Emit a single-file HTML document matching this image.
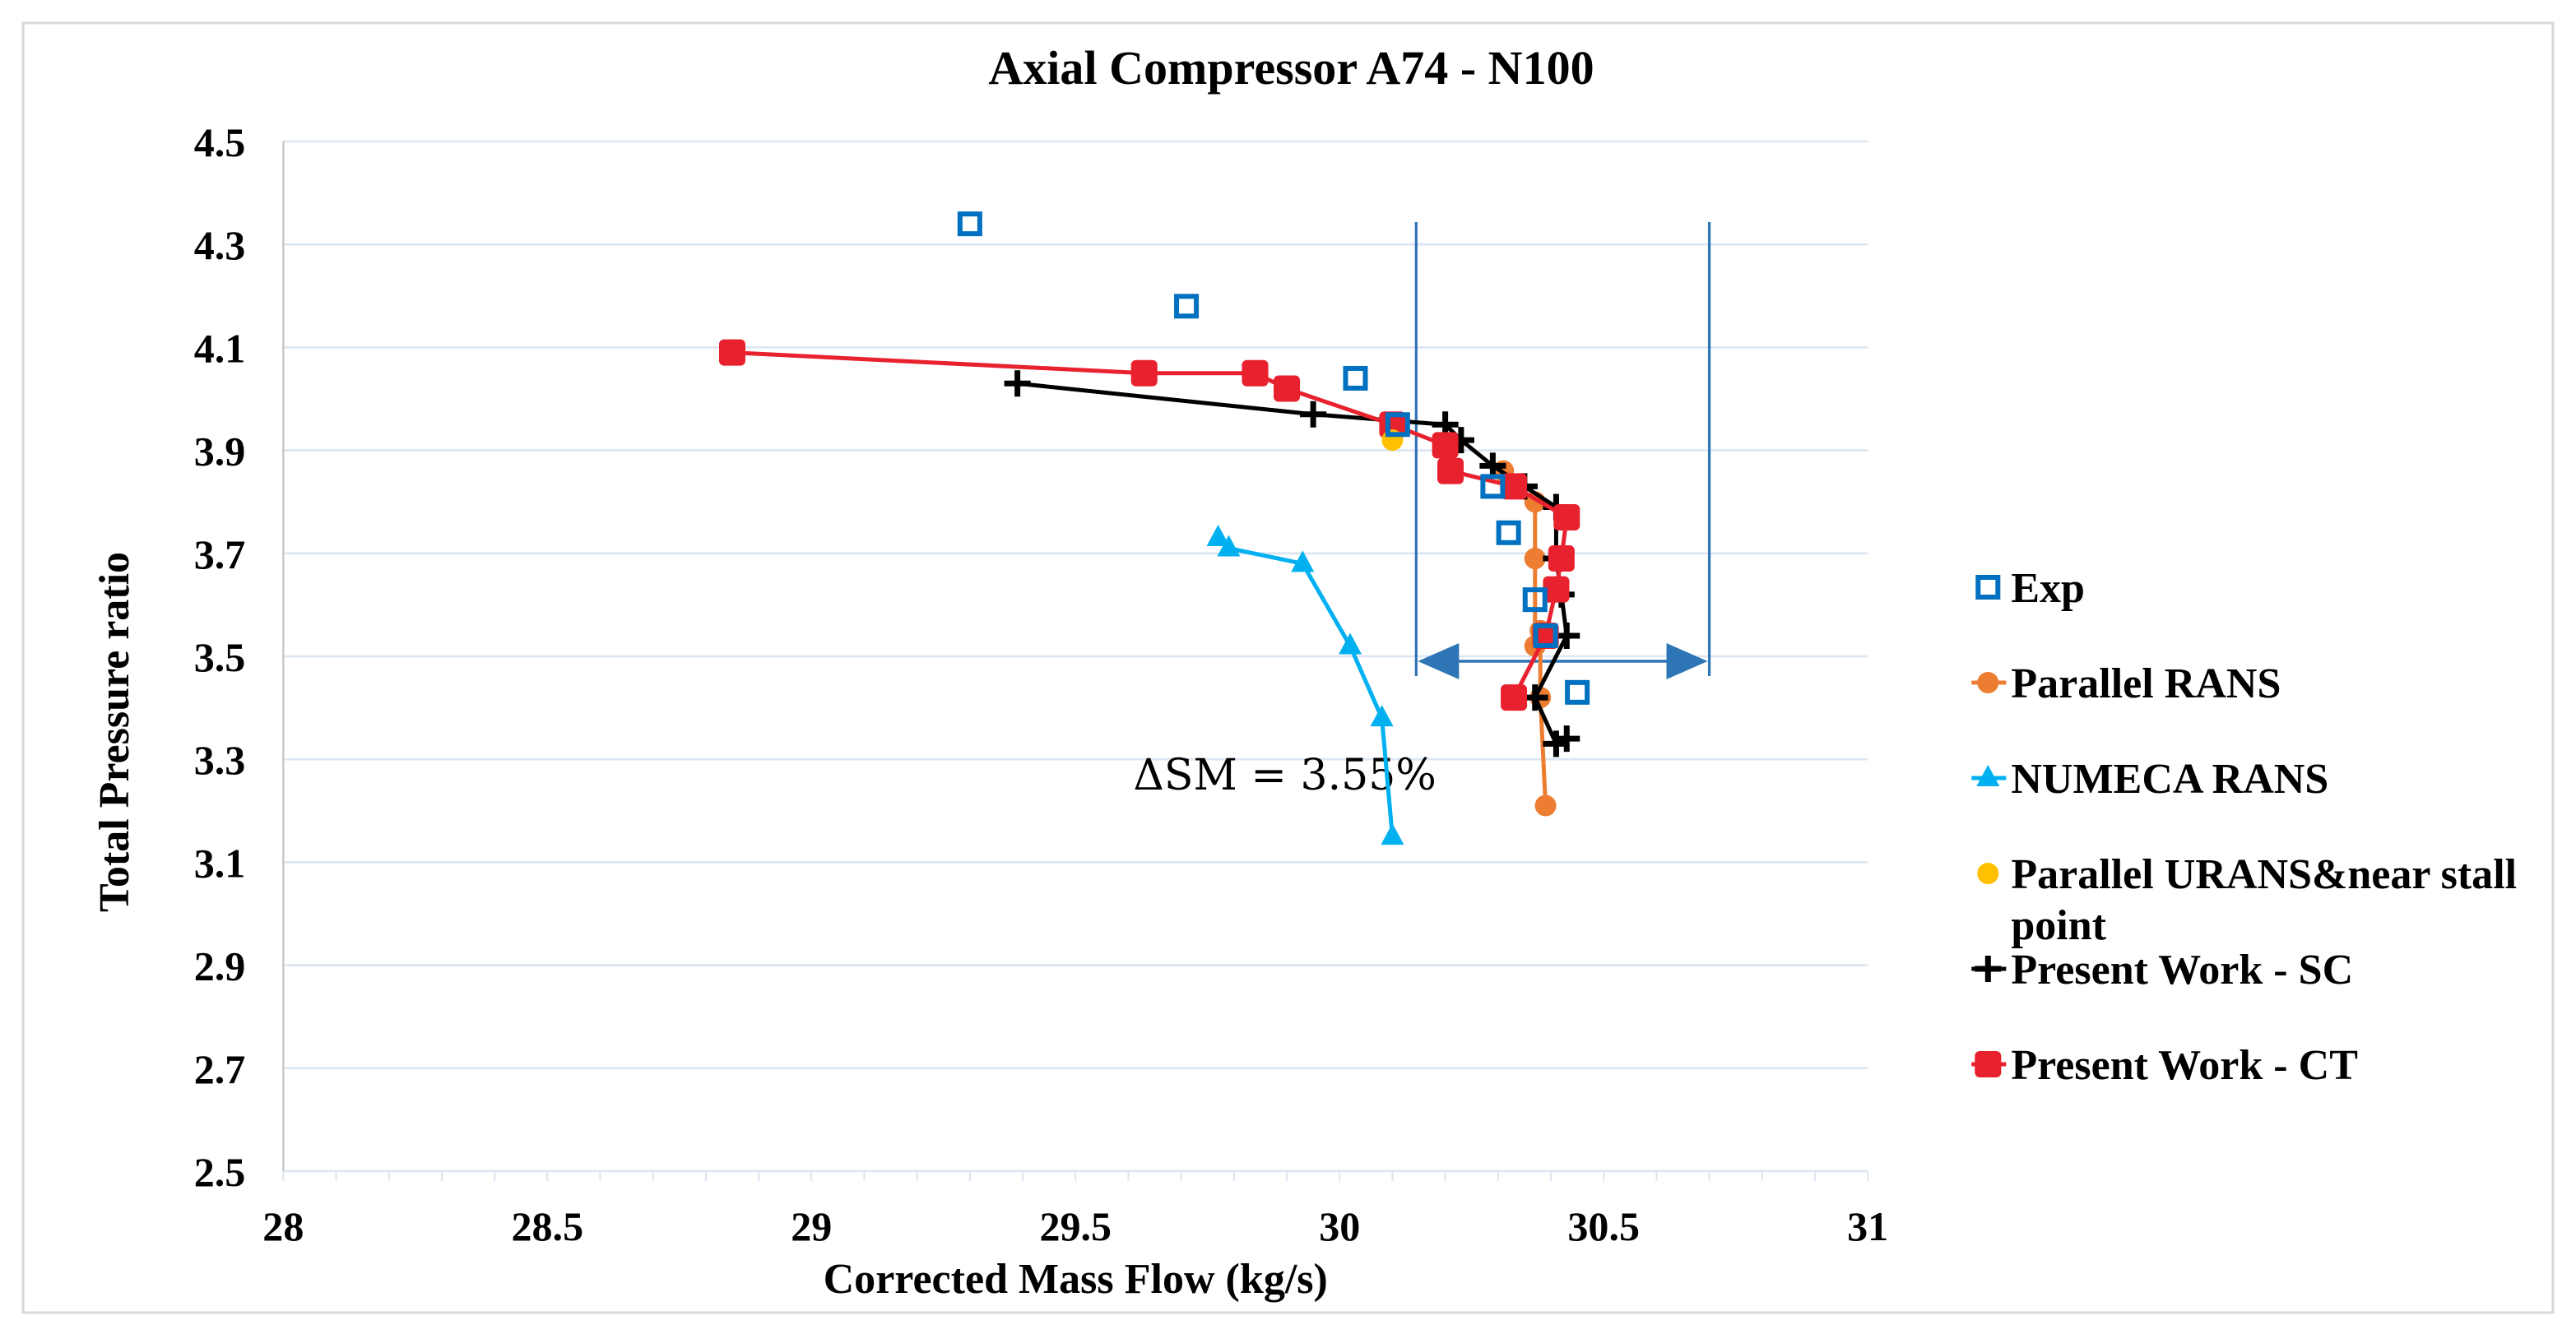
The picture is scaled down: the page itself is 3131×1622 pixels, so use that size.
<!DOCTYPE html>
<html><head><meta charset="utf-8"><style>
html,body{margin:0;padding:0;background:#fff;}
svg{display:block;font-family:"Liberation Serif",serif;}
</style></head><body>
<svg id="chart" width="3131" height="1622" viewBox="0 0 1564 811" preserveAspectRatio="none" xmlns="http://www.w3.org/2000/svg">
<rect x="14" y="14" width="1536" height="784" fill="#fff" stroke="#d9d9d9" stroke-width="1.5"/>
<text x="784" y="51" text-anchor="middle" font-size="29" font-weight="bold">Axial Compressor A74 - N100</text>
<g id="grid"></g>
<g id="axes"></g>
<text x="653" y="786" text-anchor="middle" font-size="26" font-weight="bold">Corrected Mass Flow (kg/s)</text>
<text transform="translate(78,445) rotate(-90)" text-anchor="middle" font-size="26" font-weight="bold">Total Pressure ratio</text>
<g id="annot"></g>
<g id="series"></g>
<g id="legend"></g>
</svg>
<script>
const xTicks=[28,28.5,29,29.5,30,30.5,31];
const yTicks=[2.5,2.7,2.9,3.1,3.3,3.5,3.7,3.9,4.1,4.3,4.5];
const expX=[29.30,29.71,30.03,30.11,30.29,30.32,30.37,30.39,30.45];
const expY=[4.34,4.18,4.04,3.95,3.83,3.74,3.61,3.54,3.43];
const ransX=[30.31,30.37,30.37,30.37,30.38,30.38,30.39];
const ransY=[3.86,3.80,3.69,3.52,3.55,3.42,3.21];
const numecaX=[29.77,29.79,29.93,30.02,30.08,30.10];
const numecaY=[3.73,3.71,3.68,3.52,3.38,3.15];
const uransX=[30.10];
const uransY=[3.92];
const scX=[29.39,29.95,30.20,30.23,30.29,30.35,30.41,30.41,30.42,30.43,30.37,30.41,30.43];
const scY=[4.03,3.97,3.95,3.92,3.87,3.83,3.79,3.69,3.62,3.54,3.42,3.33,3.34];
const ctX=[28.85,29.63,29.84,29.90,30.10,30.20,30.21,30.33,30.43,30.42,30.41,30.39,30.33];
const ctY=[4.09,4.05,4.05,4.02,3.95,3.91,3.86,3.83,3.77,3.69,3.63,3.54,3.42];
const smLeft=30.145, smRight=30.70, smArrowY=3.50;

const NS="http://www.w3.org/2000/svg";
const X=v=>172+(v-28)*(962/3);
const Y=v=>712-(v-2.5)*(626/2);
function mk(tag,attrs,parent){const e=document.createElementNS(NS,tag);for(const k in attrs)e.setAttribute(k,attrs[k]);parent.appendChild(e);return e;}
const grid=document.getElementById('grid'),axes=document.getElementById('axes');
yTicks.forEach(t=>{
  const l=mk('line',{x1:X(28),x2:X(31),y1:Y(t),y2:Y(t),stroke:'#dce5f2','stroke-width':1.3},grid);
  
  
  const tx=mk('text',{x:149,y:Y(t)+9,'text-anchor':'end','font-size':25,'font-weight':'bold'},axes);
  tx.textContent=t.toFixed(1);
  
  
});
const ya=mk('line',{x1:X(28),x2:X(28),y1:Y(4.5),y2:Y(2.5),stroke:'#bfbfbf','stroke-width':1},axes);


for(let v=28;v<=31.001;v+=0.1){
  const tk=mk('line',{x1:X(v),x2:X(v),y1:Y(2.5),y2:Y(2.5)+6,stroke:'#dce5f2','stroke-width':1},axes);
  
  
}
xTicks.forEach(t=>{
  const tx=mk('text',{x:X(t),y:754,'text-anchor':'middle','font-size':25,'font-weight':'bold'},axes);
  tx.textContent=String(t);
  
  
});
const an=document.getElementById('annot');
[smLeft,smRight].forEach(v=>{
  const l=mk('line',{x1:X(v),x2:X(v),y1:135,y2:411,stroke:'#2e75b6','stroke-width':1.6},an);
  
  
});
const ay=Y(smArrowY)+3;
const ar=mk('line',{x1:X(smLeft)+20,x2:X(smRight)-20,y1:ay,y2:ay,stroke:'#2e75b6','stroke-width':1.8},an);


const h1=mk('polygon',{points:`${X(smLeft)+1},${ay} ${X(smLeft)+26},${ay-11} ${X(smLeft)+26},${ay+11}`,fill:'#2e75b6'},an);


const h2=mk('polygon',{points:`${X(smRight)-1},${ay} ${X(smRight)-26},${ay-11} ${X(smRight)-26},${ay+11}`,fill:'#2e75b6'},an);


const st=mk('text',{x:688,y:480,'font-size':26,'font-family':'"DejaVu Serif","Liberation Serif",serif'},an);
st.textContent='ΔSM = 3.55%';


const S=document.getElementById('series');
function line(xs,ys,color,w,name){
  const p=mk('polyline',{points:xs.map((v,i)=>X(v)+','+Y(ys[i])).join(' '),fill:'none',stroke:color,'stroke-width':w},S);
  
  
}
function marker(g,type,cx,cy,color,name){
  let e;
  if(type==='sq'){e=mk('rect',{x:cx-6,y:cy-6,width:12,height:12,fill:'none',stroke:color,'stroke-width':3},g);}
  else if(type==='circ'){e=mk('circle',{cx:cx,cy:cy,r:6.5,fill:color},g);}
  else if(type==='tri'){e=mk('polygon',{points:`${cx},${cy-8} ${cx-7},${cy+5} ${cx+7},${cy+5}`,fill:color},g);}
  else if(type==='plus'){e=mk('path',{d:`M${cx-8},${cy}H${cx+8}M${cx},${cy-8}V${cy+8}`,stroke:color,'stroke-width':3.5},g);}
  else if(type==='rsq'){e=mk('rect',{x:cx-8,y:cy-8,width:16,height:16,rx:3,fill:color},g);}
  
  
}
line(ransX,ransY,'#ed7d31',2.5,'parallel-rans-line');
ransX.forEach((v,i)=>marker(S,'circ',X(v),Y(ransY[i]),'#ed7d31','parallel-rans-point'));
line(numecaX,numecaY,'#00b0f0',2.5,'numeca-rans-line');
numecaX.forEach((v,i)=>marker(S,'tri',X(v),Y(numecaY[i]),'#00b0f0','numeca-rans-point'));
line(scX,scY,'#000',2.5,'present-sc-line');
scX.forEach((v,i)=>marker(S,'plus',X(v),Y(scY[i]),'#000','present-sc-point'));
line(ctX,ctY,'#e8212e',2.5,'present-ct-line');
ctX.forEach((v,i)=>marker(S,'rsq',X(v),Y(ctY[i]),'#e8212e','present-ct-point'));
uransX.forEach((v,i)=>marker(S,'circ',X(v),Y(uransY[i]),'#ffc000','parallel-urans-point'));
expX.forEach((v,i)=>marker(S,'sq',X(v),Y(expY[i]),'#0070c0','exp-point'));
const L=document.getElementById('legend');
const leg=[['Exp','sq','#0070c0',357],['Parallel RANS','circ','#ed7d31',415],['NUMECA RANS','tri','#00b0f0',473],['Parallel URANS&near stall','circ','#ffc000',531],['Present Work - SC','plus','#000',589],['Present Work - CT','rsq','#e8212e',647]];
leg.forEach(d=>{
  const g=mk('g',{},L);
  
  
  if(d[0]!=='Exp'&&!d[0].startsWith('Parallel U')){mk('line',{x1:1197,x2:1218,y1:d[3],y2:d[3],stroke:d[2],'stroke-width':2.5},g);}
  marker(g,d[1],1207,d[3],d[2],'legend-marker');
  const t=mk('text',{x:1221,y:d[3]+9,'font-size':26,'font-weight':'bold'},g);
  t.textContent=d[0];
  
  
  if(d[0].startsWith('Parallel U')){
    const t2=mk('text',{x:1221,y:d[3]+40,'font-size':26,'font-weight':'bold'},g);
    t2.textContent='point';
    
    
  }
});
</script>
</body></html>
